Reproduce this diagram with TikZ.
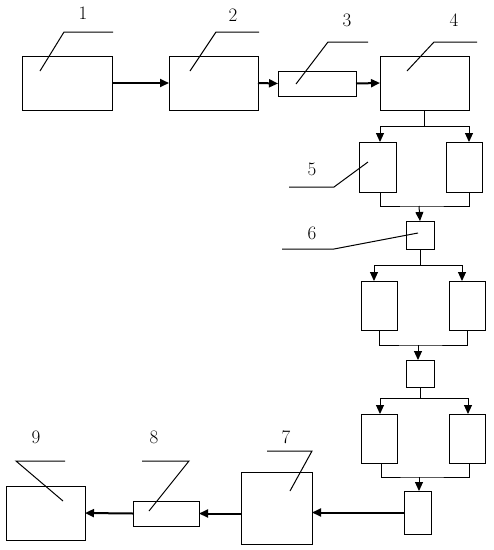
\documentclass[tikz,border=0pt]{standalone}
\usetikzlibrary{arrows.meta}
\tikzset{
  blk/.style={draw,line width=1pt,inner sep=0pt,outer sep=0pt},
  arr/.style={line width=2pt,-{Triangle[length=9pt,width=8pt]}},
  tarr/.style={line width=1pt,-{Triangle[length=9pt,width=8pt]}},
  lead/.style={line width=1pt},
  num/.style={font=\fontsize{19}{22}\selectfont}
}
\begin{document}
\begin{tikzpicture}[x=1pt,y=-1pt]
   \useasboundingbox (0,0) rectangle (494,550);
   \node[blk,minimum width=90pt,minimum height=54pt] (b1) at (67,83) {};
   \node[blk,minimum width=89pt,minimum height=54pt] (b2) at (213.5,83) {};
   \node[blk,minimum width=78pt,minimum height=25pt] (b3) at (317,83.5) {};
   \node[blk,minimum width=89pt,minimum height=54pt] (b4) at (424.5,83) {};
   \node[blk,minimum width=37pt,minimum height=50pt] (b5a) at (377.5,167) {};
   \node[blk,minimum width=36pt,minimum height=50pt] (b5b) at (464,167) {};
   \node[blk,minimum width=28pt,minimum height=28pt] (b6) at (420,235) {};
   \node[blk,minimum width=36pt,minimum height=49pt] (c1a) at (379,305.5) {};
   \node[blk,minimum width=36pt,minimum height=49pt] (c1b) at (467,305.5) {};
   \node[blk,minimum width=28pt,minimum height=27pt] (c2) at (420,373.5) {};
   \node[blk,minimum width=36pt,minimum height=49pt] (c3a) at (379,438.5) {};
   \node[blk,minimum width=36pt,minimum height=49pt] (c3b) at (467,438.5) {};
   \node[blk,minimum width=27pt,minimum height=43pt] (c4) at (417.5,512.5) {};
   \node[blk,minimum width=71pt,minimum height=72pt] (b7) at (276.5,508) {};
   \node[blk,minimum width=66pt,minimum height=25pt] (b8) at (166,513.5) {};
   \node[blk,minimum width=79pt,minimum height=54pt] (b9) at (45.5,513) {};

   \draw[arr] (b1.east) -- (b2.west);
   \draw[arr] (b2.east) -- (b3.west);
   \draw[arr] (b3.east) -- (b4.west);

   \coordinate (j1) at ([yshift=-16pt]b4.south);
   \draw[lead] (b4.south) -- (j1);
   \draw[tarr] (j1) -| (b4.south west |- b5a.north);
   \draw[tarr] (j1) -| (b4.south east |- b5b.north);
   \coordinate (j2) at (419,206);
   \draw[lead] (b4.south west |- b5a.south) |- (j2) -| (b4.south east |- b5b.south);
   \draw[tarr] (j2) -- (b6.north);

   \coordinate (j3) at ([yshift=-16pt]b6.south);
   \draw[lead] (b6.south) -- (j3);
   \draw[tarr] (j3) -| ([xshift=-5pt]c1a.north);
   \draw[tarr] (j3) -| ([xshift=-5pt]c1b.north);
   \coordinate (j4) at (418,345);
   \draw[lead] (c1a.south) |- (j4) -| (c1b.south);
   \draw[tarr] (j4) -- (c2.north -| j4);

   \coordinate (j5) at ([yshift=-11pt]c2.south);
   \draw[lead] (c2.south) -- (j5);
   \draw[tarr] (j5) -| ([xshift=1pt]c3a.north);
   \draw[tarr] (j5) -| ([xshift=1pt]c3b.north);
   \coordinate (j6) at (419,477);
   \draw[lead] ([xshift=2pt]c3a.south) |- (j6) -| ([xshift=2pt]c3b.south);
   \draw[tarr] (j6) -- (j6 |- c4.north);

   \draw[arr] (c4.west) -- (c4.west -| b7.east);
   \draw[arr] (b7.west |- b8.east) -- (b8.east);
   \draw[arr] (b8.west) -- (b9.east);

   \draw[lead] (40,71) -- (64,32) -- (113,32);
   \node[num] (n1) at (83,13) {1};
   \draw[lead] (190,71) -- (216,32) -- (259,32);
   \node[num] (n2) at (233,15) {2};
   \draw[lead] (296,84) -- (328,42) -- (368,42);
   \node[num] (n3) at (347,20) {3};
   \draw[lead] (407,71) -- (434,42) -- (477,42);
   \node[num] (n4) at (454,20) {4};
   \draw[lead] (368,162) -- (334,187) -- (289,187);
   \node[num] (n5) at (312,169) {5};
   \draw[lead] (418,233) -- (334,249) -- (282,249);
   \node[num] (n6) at (312,233) {6};
   \draw[lead] (290,491) -- (312,451) -- (267,451);
   \node[num] (n7) at (286,437) {7};
   \draw[lead] (149,511) -- (189,461) -- (142,461);
   \node[num] (n8) at (154,437) {8};
   \draw[lead] (63,501) -- (16,461) -- (65,461);
   \node[num] (n9) at (36,437) {9};
\end{tikzpicture}
\end{document}
